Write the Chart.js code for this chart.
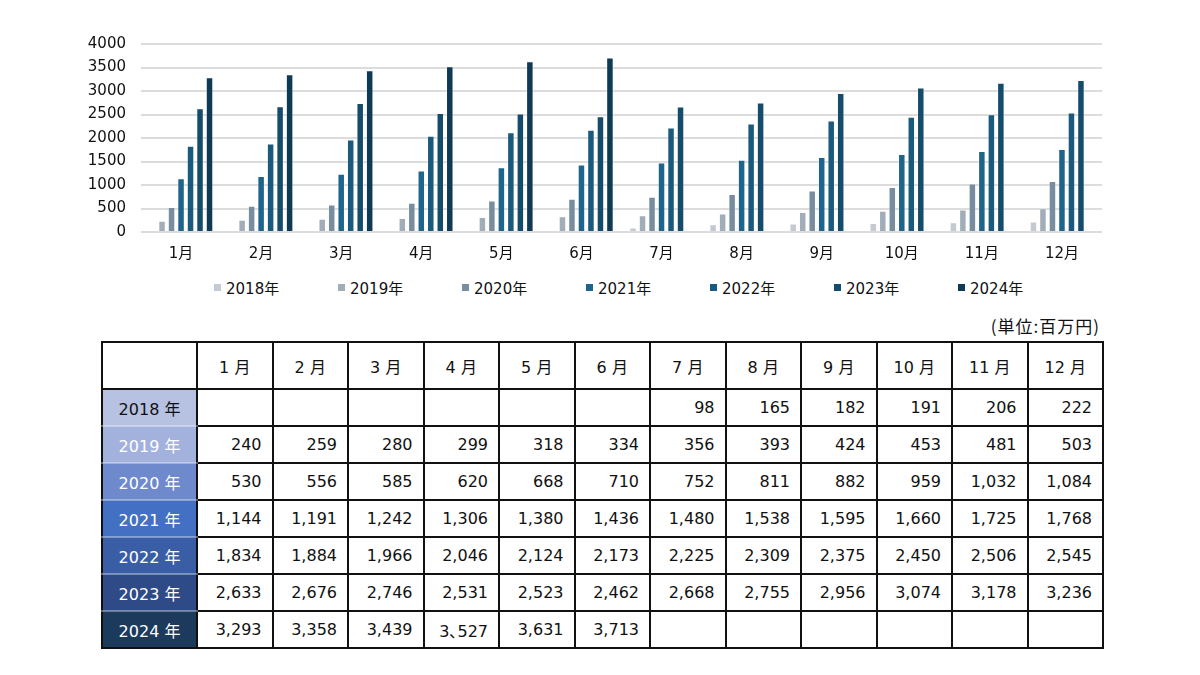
<!DOCTYPE html>
<html lang="ja">
<head>
<meta charset="utf-8">
<script src="https://cdn.jsdelivr.net/npm/chart.js@4"></script>
<style>
  html, body { margin: 0; padding: 0; background: #fff; }
  body { width: 1200px; height: 675px; position: relative; overflow: hidden;
         font-family: "DejaVu Sans", "Noto Sans CJK JP", sans-serif; color: #111; }
  #chartBox { position: absolute; left: 60px; top: 20px; width: 1050px; height: 250px; }
  #legend { position: absolute; left: 0; top: 277px; width: 1200px; height: 20px; }
  .lg-item { position: absolute; top: 0; height: 20px; display: flex; align-items: center;
             font-size: 15px; color: #111; white-space: nowrap; }
  .lg-box { width: 7px; height: 7px; margin-right: 5px; }
  #unit { position: absolute; right: 100px; top: 313px; font-size: 17px; letter-spacing: 1px;
          font-family: "Noto Sans CJK JP", sans-serif; color: #111; }
  #tbl { position: absolute; left: 101px; top: 341px; border-collapse: collapse;
         table-layout: fixed; width: 1003px; font-size: 16px; }
  #tbl td { border: 2px solid #111; padding: 0 10px 0 0; text-align: right; height: 35px; }
  #tbl tr.head td { height: 45px; text-align: center; padding: 0; }
  #tbl td.rh { text-align: center; padding: 0; color: #fff;
               border-bottom-color: rgba(255,255,255,0.35); border-top-color: rgba(255,255,255,0.35); }
  #tbl tr:last-child td.rh { border-bottom-color: #111; }
</style>
</head>
<body>
<div id="chartBox"><canvas id="salesChart"></canvas></div>
<div id="legend"></div>
<div id="unit">(単位:百万円)</div>
<table id="tbl"></table>

<script>
(function () {
    'use strict';

    const months = ['1月', '2月', '3月', '4月', '5月', '6月', '7月', '8月', '9月', '10月', '11月', '12月'];
    const tableMonths = ['1 月', '2 月', '3 月', '4 月', '5 月', '6 月', '7 月', '8 月', '9 月', '10 月', '11 月', '12 月'];
    const years = ['2018年', '2019年', '2020年', '2021年', '2022年', '2023年', '2024年'];
    const tableYears = ['2018 年', '2019 年', '2020 年', '2021 年', '2022 年', '2023 年', '2024 年'];

    const y2018 = [null, null, null, null, null, null, 98, 165, 182, 191, 206, 222];
    const y2019 = [240, 259, 280, 299, 318, 334, 356, 393, 424, 453, 481, 503];
    const y2020 = [530, 556, 585, 620, 668, 710, 752, 811, 882, 959, 1032, 1084];
    const y2021 = [1144, 1191, 1242, 1306, 1380, 1436, 1480, 1538, 1595, 1660, 1725, 1768];
    const y2022 = [1834, 1884, 1966, 2046, 2124, 2173, 2225, 2309, 2375, 2450, 2506, 2545];
    const y2023 = [2633, 2676, 2746, 2531, 2523, 2462, 2668, 2755, 2956, 3074, 3178, 3236];
    const y2024 = [3293, 3358, 3439, 3527, 3631, 3713, null, null, null, null, null, null];
    const series = [y2018, y2019, y2020, y2021, y2022, y2023, y2024];

    // the source table has one mistyped cell, keep it as printed
    const cellTextOverrides = { '6-3': '3､527' };

    const yTicks = [0, 500, 1000, 1500, 2000, 2500, 3000, 3500, 4000];

    const barColors = ['#c3cad3', '#a1adb9', '#798da1', '#1e648b', '#1a5a7e', '#164c6b', '#0f3a55'];
    const headColors = ['#b7c1e2', '#a3b1dd', '#6f89cd', '#4370c2', '#395ea6', '#2e4a87', '#1b3a5c'];

    // ---- chart ----
    const ctx = document.getElementById('salesChart').getContext('2d');
    const datasets = series.map((data, i) => ({
        label: years[i],
        data: data,
        backgroundColor: barColors[i],
        borderColor: 'rgba(255,255,255,0.35)',
        borderWidth: 1,
        categoryPercentage: 0.83,
        barPercentage: 0.79
    }));

    new Chart(ctx, {
        type: 'bar',
        data: { labels: months, datasets: datasets },
        options: {
            responsive: true,
            maintainAspectRatio: false,
            animation: false,
            layout: { padding: { left: 0, right: 8, top: 3, bottom: 8 } },
            scales: {
                x: {
                    grid: { display: false, drawTicks: false },
                    border: { display: false },
                    ticks: {
                        padding: 13,
                        color: '#111',
                        font: { family: '"DejaVu Sans", "Noto Sans CJK JP"', size: 15 }
                    },
                    afterFit: (scale) => { scale.height = 30; }
                },
                y: {
                    min: 0,
                    max: 4000,
                    afterBuildTicks: (scale) => { scale.ticks = yTicks.map(v => ({ value: v })); },
                    grid: { color: '#dcdcdc', lineWidth: 2, drawTicks: false },
                    border: { display: false },
                    ticks: {
                        padding: 15,
                        color: '#111',
                        font: { family: '"DejaVu Sans"', size: 15 },
                        callback: (v) => String(v)
                    },
                    afterFit: (scale) => { scale.width = 81; }
                }
            },
            plugins: {
                legend: { display: false },
                tooltip: { enabled: false }
            }
        }
    });

    // ---- legend ----
    const legend = document.getElementById('legend');
    years.forEach((name, i) => {
        const item = document.createElement('div');
        item.className = 'lg-item';
        item.style.left = (214 + i * 124) + 'px';
        item.innerHTML = '<span class="lg-box" style="background:' + barColors[i] + '"></span>' + name;
        legend.appendChild(item);
    });

    // ---- table ----
    const tbl = document.getElementById('tbl');
    let html = '<colgroup><col style="width:95px">';
    months.forEach(() => { html += '<col>'; });
    html += '</colgroup><tr class="head"><td></td>';
    tableMonths.forEach(m => { html += '<td>' + m + '</td>'; });
    html += '</tr>';
    series.forEach((data, r) => {
        const txt = r === 0 ? '#111' : '#fff';
        html += '<tr><td class="rh" style="background:' + headColors[r] + ';color:' + txt + '">' + tableYears[r] + '</td>';
        data.forEach((v, c) => {
            let s = v === null ? '' : v.toLocaleString('en-US');
            if (cellTextOverrides[r + '-' + c]) s = cellTextOverrides[r + '-' + c];
            html += '<td>' + s + '</td>';
        });
        html += '</tr>';
    });
    tbl.innerHTML = html;
})();
</script>
</body>
</html>
